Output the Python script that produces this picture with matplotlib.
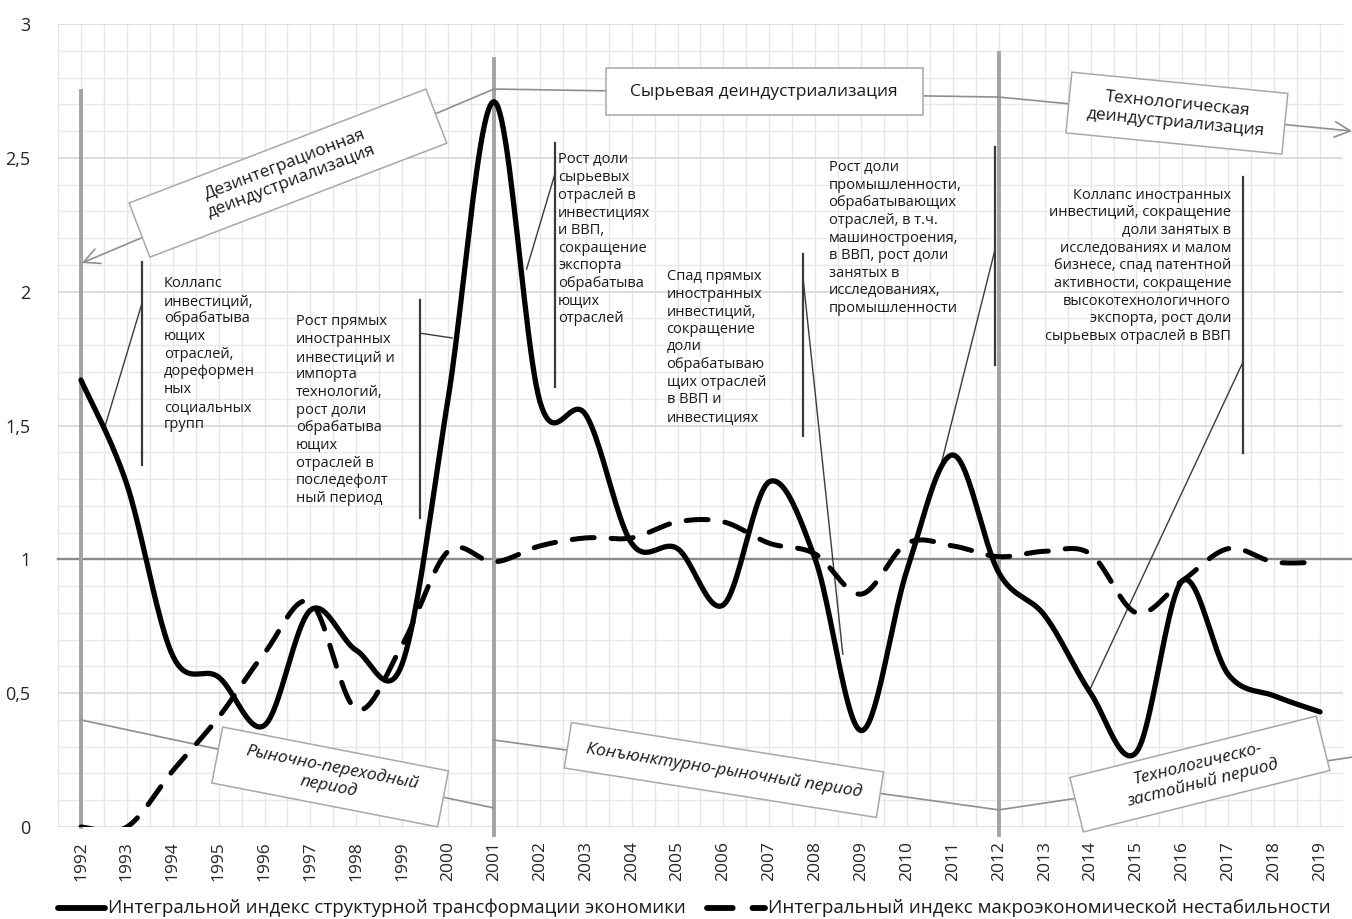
import numpy as np
import matplotlib
matplotlib.use('Agg')
import matplotlib.pyplot as plt
import matplotlib.transforms as mtransforms
from matplotlib.patches import Rectangle
from matplotlib.lines import Line2D

plt.rcParams['font.family'] = ['Open Sans', 'DejaVu Sans']

# ---------------- data ----------------
years = list(range(1992, 2020))
structural_index = [1.67, 1.28, 0.64, 0.56, 0.38, 0.81, 0.66, 0.61, 1.60, 2.71,
                    1.59, 1.54, 1.06, 1.04, 0.83, 1.29, 1.00, 0.36, 0.96, 1.39,
                    0.95, 0.79, 0.50, 0.28, 0.92, 0.57, 0.49, 0.43]
instability_index = [0.00, 0.00, 0.21, 0.41, 0.65, 0.84, 0.44, 0.68, 1.03, 0.99,
                     1.05, 1.08, 1.08, 1.14, 1.14, 1.06, 1.02, 0.87, 1.06, 1.05,
                     1.01, 1.03, 1.02, 0.80, 0.92, 1.04, 0.99, 0.99]
series_labels = ['Интегральной индекс структурной трансформации экономики',
                 'Интегральный индекс макроэкономической нестабильности']
y_ticks = [0, 0.5, 1, 1.5, 2, 2.5, 3]
y_tick_labels = ['0', '0,5', '1', '1,5', '2', '2,5', '3']

period_boundaries = [1992, 2001, 2012]
upper_labels = ['Дезинтеграционная\nдеиндустриализация',
                'Сырьевая деиндустриализация',
                'Технологическая\nдеиндустриализация']
lower_labels = ['Рыночно-переходный\nпериод',
                'Конъюнктурно-рыночный период',
                'Технологическо-\nзастойный период']
notes = [
    'Коллапс\nинвестиций,\nобрабатыва\nющих\nотраслей,\nдореформен\nных\nсоциальных\nгрупп',
    'Рост прямых\nиностранных\nинвестиций и\nимпорта\nтехнологий,\nрост доли\nобрабатыва\nющих\nотраслей в\nпоследефолт\nный период',
    'Рост доли\nсырьевых\nотраслей в\nинвестициях\nи ВВП,\nсокращение\nэкспорта\nобрабатыва\nющих\nотраслей',
    'Спад прямых\nиностранных\nинвестиций,\nсокращение\nдоли\nобрабатываю\nщих отраслей\nв ВВП и\nинвестициях',
    'Рост доли\nпромышленности,\nобрабатывающих\nотраслей, в т.ч.\nмашиностроения,\nв ВВП, рост доли\nзанятых в\nисследованиях,\nпромышленности',
    'Коллапс иностранных\nинвестиций, сокращение\nдоли занятых в\nисследованиях и малом\nбизнесе, спад патентной\nактивности, сокращение\nвысокотехнологичного\nэкспорта, рост доли\nсырьевых отраслей в ВВП',
]


def smooth(xs, ys, n=24):
    """Excel-style smoothed line (Catmull-Rom Bezier through the points)."""
    pts = np.column_stack([xs, ys]).astype(float)
    P = np.vstack([pts[0], pts, pts[-1]])
    out = []
    t = np.linspace(0, 1, n, endpoint=False)[:, None]
    for i in range(1, len(P) - 2):
        p0, p1, p2, p3 = P[i - 1], P[i], P[i + 1], P[i + 2]
        c1 = p1 + (p2 - p0) / 6.0
        c2 = p2 - (p3 - p1) / 6.0
        out.append((1 - t) ** 3 * p1 + 3 * (1 - t) ** 2 * t * c1 + 3 * (1 - t) * t ** 2 * c2 + t ** 3 * p2)
    out.append(pts[-1:])
    s = np.vstack(out)
    return s[:, 0], s[:, 1]


W, H = 1352, 919
fig = plt.figure(figsize=(W / 100, H / 100), dpi=100)
ax = fig.add_axes([58 / W, 1 - 827 / H, (1343 - 58) / W, (827 - 24) / H])
ax.set_xlim(1991.5, 2019.5)
ax.set_ylim(0, 3)

# grid
ax.set_xticks(years)
ax.set_xticks(np.arange(1991.5, 2020, 1.0), minor=True)
ax.set_yticks(y_ticks)
ax.set_yticks(np.arange(0, 3.01, 0.1), minor=True)
ax.grid(which='both', axis='x', color='#e6e6e6', lw=1.0, zorder=0)
ax.grid(which='major', axis='y', color='#d8d8d8', lw=1.2, zorder=0)
ax.grid(which='minor', axis='y', color='#e8e8e8', lw=1.0, zorder=0)
for s in ax.spines.values():
    s.set_visible(False)
ax.set_yticklabels(y_tick_labels)
ax.set_xticklabels([str(y) for y in years], rotation=90)
ax.tick_params(which='both', length=0)
ax.tick_params(axis='y', labelsize=13, pad=20, labelcolor='#262626')
ax.tick_params(axis='x', labelsize=12.5, pad=10, labelcolor='#262626')

# axis line at 1
ax.plot([1991.5, 2019.7], [1, 1], color='#8a8a8a', lw=1.7, clip_on=False, zorder=2)

# period boundaries
tops = [2.75, 2.87, 2.89]
bottoms = [0.0, -0.03, -0.03]
for xb, t0, b0 in zip(period_boundaries, tops, bottoms):
    ax.plot([xb, xb], [b0, t0], color='#a3a3a3', lw=2.8, clip_on=False, zorder=3)

gline = dict(color='#8f8f8f', lw=1.2, clip_on=False, zorder=3)
# upper boundary lines
ax.annotate('', xy=(1992.02, 2.107), xytext=(2001, 2.757),
            arrowprops=dict(arrowstyle='->', color='#8f8f8f', lw=1.2, mutation_scale=28,
                            shrinkA=0, shrinkB=0), annotation_clip=False, zorder=3)
ax.plot([2001, 2012], [2.757, 2.727], **gline)
ax.annotate('', xy=(2019.70, 2.60), xytext=(2012, 2.727),
            arrowprops=dict(arrowstyle='->', color='#8f8f8f', lw=1.2, mutation_scale=28,
                            shrinkA=0, shrinkB=0), annotation_clip=False, zorder=3)
# lower boundary lines
ax.plot([1992, 2001], [0.40, 0.071], **gline)
ax.plot([2001, 2012], [0.325, 0.064], **gline)
ax.plot([2012, 2019.70], [0.064, 0.261], **gline)

# series
sx, sy = smooth(years, structural_index)
ax.plot(sx, sy, color='black', lw=3.8, solid_capstyle='round', zorder=5)
dx, dy = smooth(years, instability_index)
ax.plot(dx, dy, color='black', lw=3.6, dashes=(4.4, 3.4), dash_capstyle='round', zorder=5)


# boxes
def box(cx, cy, w, h, ang, text, italic=False, size=12.5):
    tr = mtransforms.Affine2D().rotate_deg(ang) + mtransforms.ScaledTranslation(cx, cy, ax.transData)
    ax.add_patch(Rectangle((-w / 2, -h / 2), w, h, transform=tr, fc='white', ec='#a8a8a8',
                           lw=1.1, zorder=6, clip_on=False))
    ax.text(cx, cy, text, rotation=ang, rotation_mode='anchor', ha='center', va='center',
            multialignment='center', fontsize=size, style='italic' if italic else 'normal',
            color='#1a1a1a', zorder=7, linespacing=1.2)


box(1996.51, 2.443, 318, 58, 21, upper_labels[0])
box(2006.89, 2.747, 317, 47, 0, upper_labels[1])
box(2015.88, 2.667, 217, 61, -5.6, upper_labels[2])
box(1997.43, 0.187, 230, 57, -11, lower_labels[0], italic=True)
box(2006.01, 0.213, 316, 46, -9, lower_labels[1], italic=True)
box(2016.38, 0.198, 254, 56, 14, lower_labels[2], italic=True)

# note brackets
bl = dict(color='#3a3a3a', lw=1.6, clip_on=False, zorder=4)
dl = dict(color='#3a3a3a', lw=1.0, clip_on=False, zorder=4)
vert = [(1993.33, 2.111, 1.352), (1999.39, 1.969, 1.154), (2002.34, 2.555, 1.644),
        (2007.73, 2.140, 1.461), (2011.91, 2.540, 1.726), (2017.32, 2.428, 1.397)]
diag = [((1993.33, 1.957), (1992.50, 1.483)), ((1999.39, 1.845), (2000.09, 1.827)),
        ((2002.34, 2.447), (2001.71, 2.084)), ((2007.73, 2.058), (2008.60, 0.646)),
        ((2011.91, 2.152), (2010.76, 1.367)), ((2017.32, 1.737), (2013.98, 0.512))]
for (xv, y1, y2) in vert:
    ax.plot([xv, xv], [y1, y2], **bl)
for (a, b) in diag:
    ax.plot([a[0], b[0]], [a[1], b[1]], **dl)

note_pos = [(1993.81, 2.058, 'left'), (1996.69, 1.915, 'left'), (2002.40, 2.520, 'left'),
            (2004.76, 2.085, 'left'), (2008.29, 2.492, 'left'), (2017.06, 2.388, 'right')]
for txt, (xn, yn, al) in zip(notes, note_pos):
    ax.text(xn, yn, txt, ha=al, va='top', multialignment=al, fontsize=10.5,
            color='#1a1a1a', linespacing=1.24, zorder=4)

# legend (bottom)
ly = 1 - 908 / H
fig.add_artist(Line2D([58 / W, 105 / W], [ly, ly], color='black', lw=4.2,
                      solid_capstyle='round'))
fig.text(108 / W, ly, series_labels[0], ha='left', va='center', fontsize=13.5, color='#1a1a1a')
fig.add_artist(Line2D([707 / W, 765 / W], [ly, ly], color='black', lw=4.2,
                      dashes=(4.4, 3.4), dash_capstyle='round'))
fig.text(768 / W, ly, series_labels[1], ha='left', va='center', fontsize=13.5, color='#1a1a1a')

fig.savefig('out.png', dpi=100, facecolor='white')
